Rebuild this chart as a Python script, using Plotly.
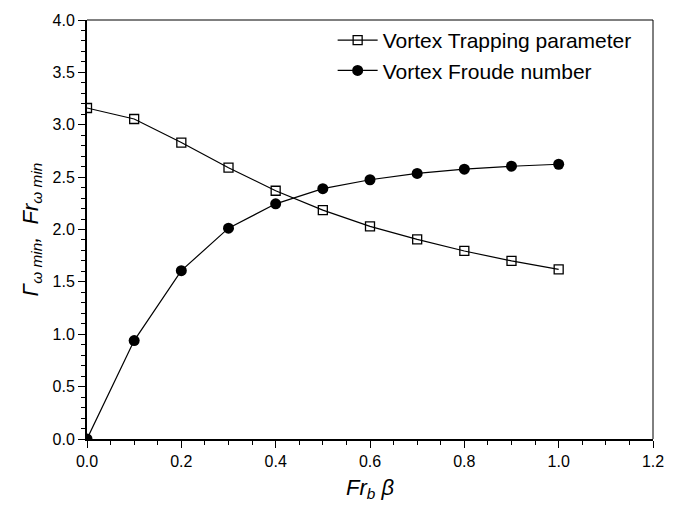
import plotly.graph_objects as go

x_vals = [0.0, 0.1, 0.2, 0.3, 0.4, 0.5, 0.6, 0.7, 0.8, 0.9, 1.0]
trapping = [3.16, 3.055, 2.83, 2.59, 2.37, 2.185, 2.03, 1.905, 1.795, 1.70, 1.62]
froude = [0.0, 0.94, 1.607, 2.013, 2.245, 2.39, 2.475, 2.535, 2.576, 2.604, 2.623]

FONT = "Liberation Sans, Arial, sans-serif"

fig = go.Figure()
fig.add_trace(go.Scatter(
    x=x_vals, y=trapping, mode="lines+markers", name="Vortex Trapping parameter",
    line=dict(color="black", width=1.2),
    marker=dict(symbol="square-open", size=9, color="black", line=dict(width=1.3, color="black")),
))
fig.add_trace(go.Scatter(
    x=x_vals, y=froude, mode="lines+markers", name="Vortex Froude number",
    line=dict(color="black", width=1.2),
    marker=dict(symbol="circle", size=11, color="black"),
))

fig.update_layout(
    width=676, height=508,
    margin=dict(l=87, r=22, t=19, b=65),
    paper_bgcolor="white", plot_bgcolor="white",
    font=dict(family=FONT, color="black", size=16),
    showlegend=True,
    legend=dict(x=0.434, y=1.0, xanchor="left", yanchor="top",
                bgcolor="rgba(0,0,0,0)", font=dict(size=21, family=FONT),
                itemwidth=40, tracegroupgap=0),
    xaxis=dict(
        range=[0, 1.2], tick0=0, dtick=0.2, tickformat=".1f",
        showgrid=False, zeroline=False,
        showline=True, linecolor="black", linewidth=2,
        ticks="outside", ticklen=7, tickwidth=1, tickcolor="black",
        minor=dict(dtick=0.05, ticks="outside", ticklen=4, tickwidth=1, tickcolor="black", showgrid=False),
        tickfont=dict(size=16),
        title=dict(text="<i>Fr<sub>b</sub> β</i>", font=dict(size=22), standoff=10),
    ),
    yaxis=dict(
        range=[0, 4.0], tick0=0, dtick=0.5, tickformat=".1f",
        showgrid=False, zeroline=False,
        showline=True, linecolor="black", linewidth=2,
        ticks="outside", ticklen=7, tickwidth=1, tickcolor="black",
        minor=dict(dtick=0.1, ticks="outside", ticklen=4, tickwidth=1, tickcolor="black", showgrid=False),
        tickfont=dict(size=16),
        title=dict(text="<i>Γ<sub>ω min</sub>,  Fr<sub>ω min</sub></i>", font=dict(size=22), standoff=8),
    ),
    shapes=[
        dict(type="line", xref="paper", yref="paper", x0=0, x1=1, y0=1, y1=1,
             line=dict(color="black", width=1)),
        dict(type="line", xref="paper", yref="paper", x0=1, x1=1, y0=0, y1=1,
             line=dict(color="black", width=1)),
    ],
)

fig.write_html("out.html")
